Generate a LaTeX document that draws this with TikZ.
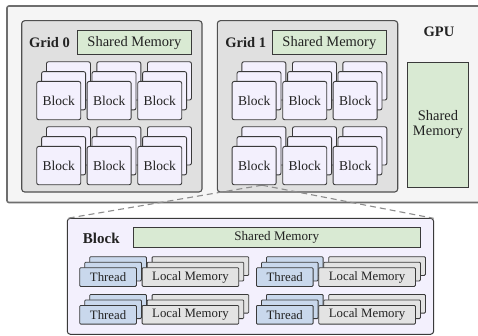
\documentclass[tikz,border=0pt]{standalone}
\usepackage{fontspec}
\setmainfont{Liberation Serif}
\usetikzlibrary{calc}

\definecolor{gpufill}{HTML}{F5F5F5}
\definecolor{gpuline}{HTML}{6E6E6E}
\definecolor{gridfill}{HTML}{E0E0E0}
\definecolor{gridline}{HTML}{505050}
\definecolor{smemfill}{HTML}{D9EAD3}
\definecolor{blockfill}{HTML}{F3F0FD}
\definecolor{threadfill}{HTML}{C9D8EC}
\definecolor{lmemfill}{HTML}{E3E3E3}
\definecolor{edge}{HTML}{3A3A3A}
\definecolor{ink}{HTML}{222222}
\definecolor{zoomline}{HTML}{8C8C8C}

% three stacked cards: #1 name, #2 style, #3/#4 top-left of the front card,
% #5 label, #6/#7 shift of each card behind (right / up)
\newcommand\cardstack[7]{%
  \node[#2, anchor=north west] (#1-back) at (#3+2*#6, #4-2*#7) {};
  \node[#2, anchor=north west] (#1-mid)  at (#3+#6, #4-#7) {};
  \node[#2, anchor=north west] (#1)      at (#3, #4) {#5};
}

\tikzset{
  gpubox/.style={draw=gpuline, fill=gpufill, line width=1.6pt, rounded corners=2pt},
  gridbox/.style={draw=gridline, fill=gridfill, line width=1.1pt, rounded corners=3pt},
  zoombox/.style={draw=edge, fill=blockfill, line width=1pt, rounded corners=3pt},
  smem/.style={draw=edge, fill=smemfill, line width=0.8pt, inner sep=0pt, text=ink},
  title/.style={font=\bfseries\fontsize{14.5}{16}\selectfont, text=ink, inner sep=0pt},
  blockcard/.style={draw=edge, fill=blockfill, line width=0.9pt, rounded corners=2pt,
    minimum width=44pt, minimum height=38.3pt, inner sep=0pt, text=ink,
    font=\fontsize{13.5}{15}\selectfont},
  threadcard/.style={draw=edge, fill=threadfill, line width=0.8pt, rounded corners=1pt,
    minimum width=56.7pt, minimum height=18.7pt, inner sep=0pt, text=ink,
    font=\fontsize{12.8}{14}\selectfont},
  lmemcard/.style={draw=edge, fill=lmemfill, line width=0.8pt, rounded corners=1pt,
    minimum width=96.7pt, minimum height=18.7pt, inner sep=0pt, text=ink,
    font=\fontsize{12.8}{14}\selectfont},
  zoomlink/.style={draw=zoomline, line width=1.1pt, dash pattern=on 6pt off 4pt},
}

\begin{document}
\begin{tikzpicture}[x=1pt, y=-1pt]
\clip (0,0) rectangle (478,336);
\fill[white] (0,0) rectangle (478,336);

% device
\draw[gpubox] (7,6) rectangle (490,202.5);
\node[title] (gpu) at (439,31.7) {GPU};
\node[smem, minimum width=60.4pt, minimum height=125pt, anchor=north west,
      align=center, font=\fontsize{14.5}{15.6}\selectfont] (gsmem) at (407.3,61.7) {Shared\\Memory};

% grids
\draw[gridbox] (21.7,20.7) rectangle (202,192);
\draw[gridbox] (217.3,20.7) rectangle (397.7,192);
\node[title] (g0) at (49.5,42.7) {Grid 0};
\node[title] (g1) at (245.7,42.7) {Grid 1};
\node[smem, minimum width=113.4pt, minimum height=24pt, anchor=north west,
      font=\fontsize{14.5}{16}\selectfont] (g0smem) at (77.3,30.3) {Shared Memory};
\node[smem, minimum width=113.4pt, minimum height=24pt, anchor=north west,
      font=\fontsize{14.5}{16}\selectfont] (g1smem) at (272.3,30.3) {Shared Memory};

% zoomed block and its link lines
\draw[zoombox] (67.3,218.3) rectangle (433.6,334.3);
\coordinate (zoomNW) at (67.3,218.3);
\coordinate (zoomNE) at (433.6,218.3);
\coordinate (focus) at (262,185.2);
\draw[zoomlink] (focus) -- (zoomNW);
\draw[zoomlink] (focus) -- (zoomNE);

% blocks of grid 0
\cardstack{a11}{blockcard}{36.3}{81}{Block}{4.85}{9.85}
\cardstack{a12}{blockcard}{86.7}{81}{Block}{4.85}{9.85}
\cardstack{a13}{blockcard}{137.3}{81}{Block}{4.85}{9.85}
\cardstack{a21}{blockcard}{36.3}{146}{Block}{4.85}{9.85}
\cardstack{a22}{blockcard}{86.7}{146}{Block}{4.85}{9.85}
\cardstack{a23}{blockcard}{137.3}{146}{Block}{4.85}{9.85}
% blocks of grid 1
\cardstack{b11}{blockcard}{231.7}{81}{Block}{4.85}{9.85}
\cardstack{b12}{blockcard}{282.3}{81}{Block}{4.85}{9.85}
\cardstack{b13}{blockcard}{332.7}{81}{Block}{4.85}{9.85}
\cardstack{b21}{blockcard}{231.7}{146}{Block}{4.85}{9.85}
\cardstack{b22}{blockcard}{282.3}{146}{Block}{4.85}{9.85}
\cardstack{b23}{blockcard}{332.7}{146}{Block}{4.85}{9.85}

% inside one block
\node[title, font=\bfseries\fontsize{15}{16}\selectfont] (blk) at (101.3,238.3) {Block};
\node[smem, minimum width=287.3pt, minimum height=20pt, anchor=north west,
      font=\fontsize{13.1}{14}\selectfont] (bsmem) at (132.7,227.3) {Shared Memory};

\cardstack{t11}{threadcard}{79.3}{267.3}{Thread}{5}{5.5}
\cardstack{m11}{lmemcard}{141.7}{267.3}{Local Memory}{5}{5.5}
\cardstack{t12}{threadcard}{256}{267.3}{Thread}{5}{5.5}
\cardstack{m12}{lmemcard}{318.3}{267.3}{Local Memory}{5}{5.5}
\cardstack{t21}{threadcard}{79.3}{305}{Thread}{5}{5.5}
\cardstack{m21}{lmemcard}{141.7}{305}{Local Memory}{5}{5.5}
\cardstack{t22}{threadcard}{256}{305}{Thread}{5}{5.5}
\cardstack{m22}{lmemcard}{318.3}{305}{Local Memory}{5}{5.5}
\end{tikzpicture}
\end{document}
